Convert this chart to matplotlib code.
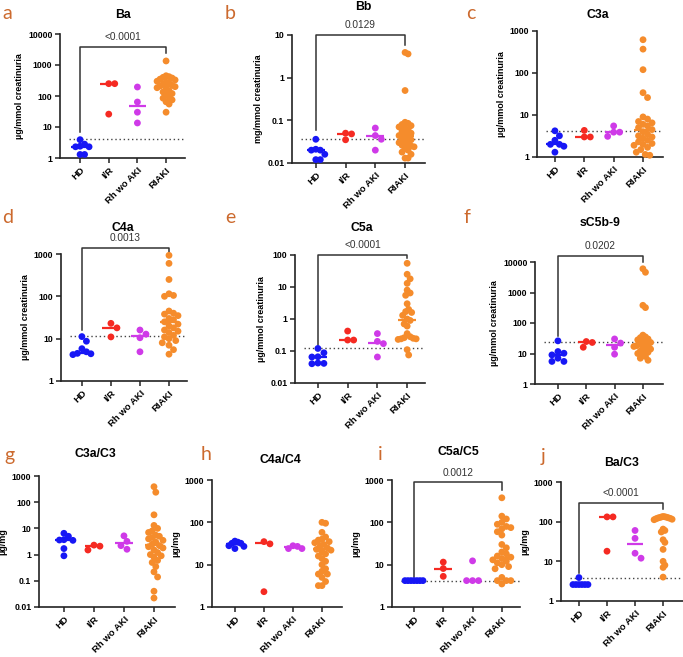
import numpy as np
import matplotlib
matplotlib.use("Agg")
import matplotlib.pyplot as plt

plt.rcParams["font.family"] = ["Liberation Sans", "DejaVu Sans"]

groups = ["HD", "I/R", "Rh wo AKI", "RIAKI"]
colors = ["#1717f5", "#f52a22", "#cf3ae8", "#f58c2c"]
letter_color = "#cc6a2e"

# ---- data ----
ba_hd = [3.9, 2.8, 2.3, 2.3, 2.4, 1.3, 1.3]
ba_ir = [250, 250, 26]
ba_rh = [195, 64, 30, 13.5]
ba_riaki = [1350, 450, 420, 400, 380, 350, 330, 300, 280, 260, 240, 220, 210,
            200, 185, 170, 150, 135, 120, 105, 95, 85, 75, 65, 55, 30]
ba_med = [2.3, 250, 49, 215]

bb_hd = [0.036, 0.021, 0.020, 0.020, 0.016, 0.012, 0.012]
bb_ir = [0.050, 0.048, 0.035]
bb_rh = [0.066, 0.044, 0.036, 0.020]
bb_riaki = [3.9, 3.6, 0.5, 0.09, 0.085, 0.08, 0.075, 0.07, 0.065, 0.06, 0.055,
            0.05, 0.047, 0.044, 0.041, 0.038, 0.035, 0.032, 0.03, 0.028, 0.026,
            0.025, 0.024, 0.022, 0.02, 0.018, 0.016, 0.013, 0.013]
bb_med = [0.0198, 0.048, 0.042, 0.044]

c3a_hd = [4.2, 3.2, 2.5, 2.0, 2.0, 1.8, 1.3]
c3a_ir = [4.3, 3.0, 3.0]
c3a_rh = [5.5, 3.9, 3.9, 3.1]
c3a_riaki = [620, 370, 120, 34, 26, 9, 8, 7, 6.5, 6, 5.5, 5, 4.5, 4, 3.5, 3.2, 3,
             2.8, 2.5, 2.3, 2.1, 2, 1.9, 1.7, 1.5, 1.3, 1.15, 1.1]
c3a_med = [2.0, 3.0, 3.95, 4.3]

c4a_hd = [11.2, 8.7, 5.8, 4.9, 4.5, 4.4, 4.2]
c4a_ir = [23, 18, 11]
c4a_rh = [16, 12.8, 10.5, 4.9]
c4a_riaki = [930, 600, 250, 115, 105, 100, 45, 40, 38, 35, 30, 28, 25, 22, 20,
             18, 16, 15, 14, 12, 11, 10, 9, 8, 7, 5.5, 4.3]
c4a_med = [4.7, 18, 11.7, 25]

c5a_hd = [0.12, 0.088, 0.065, 0.066, 0.041, 0.042, 0.040]
c5a_ir = [0.42, 0.22, 0.22]
c5a_rh = [0.35, 0.2, 0.17, 0.065]
c5a_riaki = [55, 25, 18, 13, 8, 6.5, 5.5, 3, 2, 1.7, 1.6, 1.3, 1.0, 0.9, 0.7,
             0.6, 0.35, 0.28, 0.26, 0.25, 0.24, 0.24, 0.23, 0.11, 0.075]
c5a_med = [0.066, 0.22, 0.18, 0.96]

c5b9_hd = [26, 11.6, 10.2, 9, 7, 5.5, 5.5]
c5b9_ir = [24.7, 23, 16]
c5b9_rh = [30, 22, 16, 9.5]
c5b9_riaki = [6000, 4600, 380, 320, 40, 35, 33, 30, 28, 25, 23, 21, 20, 19, 18,
              17, 15, 14, 13, 12, 11, 10, 9, 8, 7, 6]
c5b9_med = [9.1, 23, 19, 20]

c3ac3_hd = [6.5, 5.0, 3.7, 3.6, 3.5, 1.7, 0.9]
c3ac3_ir = [2.3, 2.1, 1.5]
c3ac3_rh = [5.2, 3.2, 2.2, 1.6]
c3ac3_riaki = [390, 240, 33, 13, 10, 8, 7, 5.5, 5, 4.5, 4, 3.5, 3, 2.5, 2.2, 2,
               1.8, 1.5, 1.2, 1, 0.9, 0.8, 0.6, 0.5, 0.35, 0.22, 0.14, 0.04, 0.022]
c3ac3_med = [3.7, 2.1, 2.7, 2.3]

c4ac4_hd = [36, 34, 32, 32, 28, 27, 24]
c4ac4_ir = [35, 31, 2.3]
c4ac4_rh = [28, 27, 24, 24]
c4ac4_riaki = [100, 95, 58, 45, 40, 38, 35, 33, 30, 28, 25, 23, 22, 20, 18, 16,
               14, 12, 10, 8, 7, 6, 6, 5, 4, 3.2, 3.2]
c4ac4_med = [30, 32, 26, 24]

c5ac5_hd = [4.2, 4.2, 4.2, 4.2, 4.2, 4.2, 4.2]
c5ac5_ir = [11.5, 8.1, 5.3]
c5ac5_rh = [12.3, 4.2, 4.2, 4.2]
c5ac5_riaki = [380, 140, 120, 100, 90, 80, 75, 70, 60, 50, 30, 25, 20, 18, 16,
               15, 14, 13, 12, 11, 10, 9, 8, 5, 4.2, 4.2, 4.2, 3.5]
c5ac5_med = [4.2, 8.1, 4.2, 14]

bac3_hd = [3.9, 2.6, 2.6, 2.6, 2.6, 2.6, 2.6]
bac3_ir = [132, 132, 18]
bac3_rh = [60, 38, 16, 12]
bac3_riaki = [135, 133, 131, 129, 127, 125, 123, 121, 118, 115, 112, 65, 60, 55,
              35, 30, 20, 10, 8, 7, 4]
bac3_med = [2.6, 132, 27, 124]

# title, unit label, groups, medians, threshold, ylim, bracket (y, left leg, right leg, text)
panels = [
    ("a", "Ba", "µg/mmol creatinuria", [ba_hd, ba_ir, ba_rh, ba_riaki], ba_med,
     4.1, (1, 1e4), (3900, 7, 2500, "<0.0001")),
    ("b", "Bb", "mg/mmol creatinuria", [bb_hd, bb_ir, bb_rh, bb_riaki], bb_med,
     0.037, (0.01, 10), (10, 0.06, 5.9, "0.0129")),
    ("c", "C3a", "µg/mmol creatinuria", [c3a_hd, c3a_ir, c3a_rh, c3a_riaki], c3a_med,
     4.2, (1, 1000), None),
    ("d", "C4a", "µg/mmol creatinuria", [c4a_hd, c4a_ir, c4a_rh, c4a_riaki], c4a_med,
     11.7, (1, 1000), (1390, 16, 1140, "0.0013")),
    ("e", "C5a", "µg/mmol creatinuria", [c5a_hd, c5a_ir, c5a_rh, c5a_riaki], c5a_med,
     0.12, (0.01, 100), (100, 0.15, 78, "<0.0001")),
    ("f", "sC5b-9", "µg/mmol creatinuria", [c5b9_hd, c5b9_ir, c5b9_rh, c5b9_riaki], c5b9_med,
     24.7, (1, 1e4), (15800, 38, 1e4, "0.0202")),
    ("g", "C3a/C3", "µg/mg", [c3ac3_hd, c3ac3_ir, c3ac3_rh, c3ac3_riaki], c3ac3_med,
     None, (0.01, 1000), None),
    ("h", "C4a/C4", "µg/mg", [c4ac4_hd, c4ac4_ir, c4ac4_rh, c4ac4_riaki], c4ac4_med,
     None, (1, 1000), None),
    ("i", "C5a/C5", "µg/mg", [c5ac5_hd, c5ac5_ir, c5ac5_rh, c5ac5_riaki], c5ac5_med,
     4.2, (1, 1000), (875, 5.1, 580, "0.0012")),
    ("j", "Ba/C3", "µg/mg", [bac3_hd, bac3_ir, bac3_rh, bac3_riaki], bac3_med,
     3.9, (1, 1000), (303, 5, 214, "<0.0001")),
]

# layout in pixels: axes box (left, top, right, bottom), xlim, title pos, letter pos
boxes = [(60, 34, 185, 158), (292, 35, 425, 163), (537, 31, 663, 157),
         (61, 254, 187, 381), (295, 255, 425, 383), (535, 262, 663, 384),
         (39, 476, 175, 607), (212, 480, 342, 607), (392, 480, 520, 607),
         (561, 482, 683, 601)]
xlims = [(-0.70, 3.66), (-0.80, 3.67), (-0.61, 3.68), (-0.72, 3.62), (-0.77, 3.60),
         (-0.81, 3.71), (-0.83, 3.70), (-0.79, 3.69), (-0.75, 3.62), (-0.64, 3.71)]
title_pos = [(123, 15), (363, 7), (598, 15), (123, 228), (362, 228), (600, 223),
             (95, 454), (280, 460), (458, 452), (622, 463)]
letter_pos = [(2, 19), (225, 19), (466, 19), (2, 223), (225, 223), (463, 223),
              (4, 461), (201, 460), (378, 460), (541, 462)]

W, H = 683, 657
fig = plt.figure(figsize=(W / 100, H / 100), dpi=100)


def swarm(ax, xc, vals, d=6.0, maxhalf=9.0):
    vals = np.asarray(vals, dtype=float)
    pts = ax.transData.transform(np.column_stack([np.full(len(vals), xc), vals]))
    x0 = pts[0, 0]
    ys = pts[:, 1]
    offs = np.zeros(len(vals))
    placed = []
    for i in np.argsort(-ys):
        k = 0
        while True:
            off = ((k + 1) // 2) * d * (1 if k % 2 else -1) * 0.5 if k else 0.0
            ok = all((off - po) ** 2 + (ys[i] - py) ** 2 >= d * d for po, py in placed)
            if ok:
                break
            k += 1
        offs[i] = off
        placed.append((off, ys[i]))
    m = np.abs(offs).max()
    if m > maxhalf:
        offs = offs * maxhalf / m
    xs = ax.transData.inverted().transform(np.column_stack([x0 + offs, ys]))[:, 0]
    return xs


for p, (letter, title, ylab, data, meds, thr, ylim, br) in enumerate(panels):
    l, t, r, b = boxes[p]
    ax = fig.add_axes([l / W, (H - b) / H, (r - l) / W, (b - t) / H])
    ax.set_yscale("log")
    ax.set_ylim(*ylim)
    ax.set_xlim(*xlims[p])
    ax.patch.set_alpha(0)
    for s in ["top", "right"]:
        ax.spines[s].set_visible(False)
    for s in ["left", "bottom"]:
        ax.spines[s].set_linewidth(1.2)
        ax.spines[s].set_color("#222222")

    dec = np.arange(np.log10(ylim[0]), np.log10(ylim[1]) + 0.5)
    yt = 10.0 ** dec
    ax.set_yticks(yt)
    ax.set_yticklabels([f"{v:g}" for v in yt], fontsize=6.3, fontweight="bold")
    ax.minorticks_off()
    ax.set_xticks(range(4))
    ax.set_xticklabels(groups, rotation=45, ha="right", rotation_mode="anchor",
                       fontsize=6.8, fontweight="bold")
    ax.tick_params(axis="both", length=3.5, width=1.1, color="#222222", pad=2)
    ax.set_ylabel(ylab, fontsize=6.5, fontweight="bold", labelpad=3)

    if thr is not None:
        ax.axhline(thr, xmin=0.07, xmax=1.0, color="#444444", lw=1.0,
                   ls=(0, (1, 2)), zorder=1)

    for gi, vals in enumerate(data):
        xs = swarm(ax, gi, vals)
        ax.scatter(xs, vals, s=24, color=colors[gi], edgecolors="none", zorder=3,
                   clip_on=False)
        ax.plot([gi - 0.3, gi + 0.3], [meds[gi], meds[gi]], color=colors[gi],
                lw=1.6, zorder=4, solid_capstyle="butt")

    if br is not None:
        yb, yl, yr, txt = br
        ax.plot([0, 0, 3, 3], [yl, yb, yb, yr], color="#333333", lw=1.1,
                clip_on=False, zorder=2)
        ax.annotate(txt, xy=(1.5, yb), xytext=(0, 3.5), textcoords="offset points",
                    ha="center", va="bottom", fontsize=7.3, color="#333333",
                    annotation_clip=False)

    tx, ty = title_pos[p]
    fig.text(tx / W, 1 - ty / H, title, ha="center", va="center", fontsize=8.8,
             fontweight="bold")
    lx, ly = letter_pos[p]
    fig.text(lx / W, 1 - ly / H, letter, ha="left", va="baseline", fontsize=14,
             color=letter_color, family=["Lato", "DejaVu Sans"])

fig.savefig("out.png", dpi=100)
